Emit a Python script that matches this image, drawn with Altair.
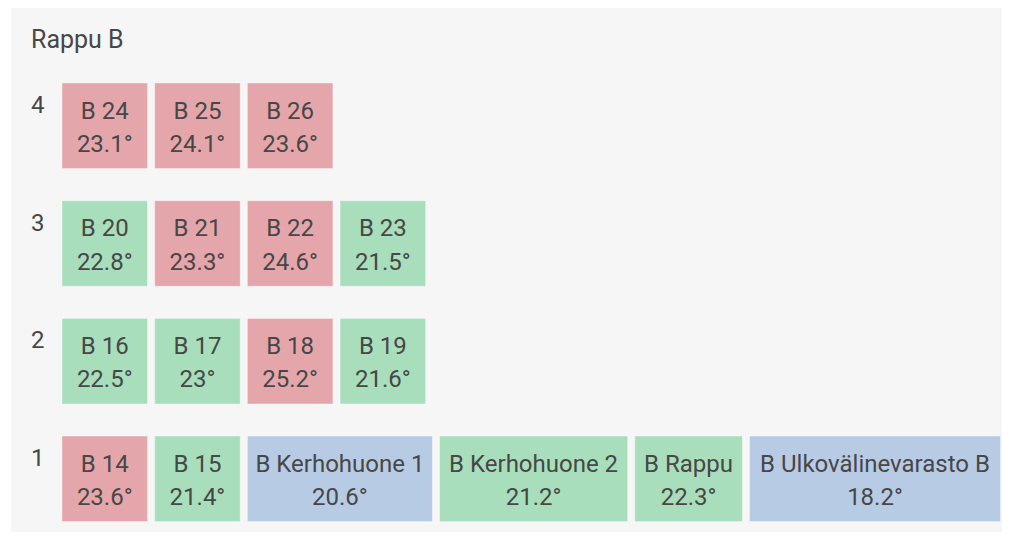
import altair as alt
import pandas as pd

# ---------------- data ----------------
TITLE = "Rappu B"
FLOORS = [4, 4, 4, 3, 3, 3, 3, 2, 2, 2, 2, 1, 1, 1, 1, 1, 1]
ROOMS = ["B 24", "B 25", "B 26",
         "B 20", "B 21", "B 22", "B 23",
         "B 16", "B 17", "B 18", "B 19",
         "B 14", "B 15", "B Kerhohuone 1", "B Kerhohuone 2", "B Rappu",
         "B Ulkovälinevarasto B"]
TEMPS = [23.1, 24.1, 23.6,
         22.8, 23.3, 24.6, 21.5,
         22.5, 23.0, 25.2, 21.6,
         23.6, 21.4, 20.6, 21.2, 22.3, 18.2]
STATUS_DOMAIN = ["cold", "ok", "warm"]
STATUS_COLORS = ["#b8cbe5", "#a8debb", "#e4a6ab"]
COLD_BELOW = 21.0
WARM_ABOVE = 23.0

# ---------------- layout (sizes, not data) ----------------
W, H = 991, 524          # plot area
X0 = 51                  # first cell left edge
GAP = 7.2                # gap between cells
CELL_W = 85.5            # default cell width
CELL_H = 85.5
ROW0 = 75                # top of the first (highest) floor row
ROW_PITCH = 117.7
WIDE_CELLS = {"B Kerhohuone 1": 185, "B Kerhohuone 2": 188,
              "B Rappu": 107.5, "B Ulkovälinevarasto B": 251}
FONT = "Roboto"
TEXT_COLOR = "#474747"
FONT_SIZE = 24

df = pd.DataFrame({"floor": FLOORS, "room": ROOMS, "temp": TEMPS})
df["status"] = df["temp"].apply(
    lambda t: "cold" if t < COLD_BELOW else ("warm" if t > WARM_ABOVE else "ok"))
df["label"] = df["temp"].apply(lambda t: f"{t:g}°")
df["w"] = df["room"].map(WIDE_CELLS).fillna(CELL_W)
df["x2"] = X0 + df.groupby("floor")["w"].cumsum() + GAP * df.groupby("floor").cumcount()
df["x"] = df["x2"] - df["w"]
df["xc"] = (df["x"] + df["x2"]) / 2
floor_order = sorted(set(FLOORS), reverse=True)
df["row"] = df["floor"].map({f: i for i, f in enumerate(floor_order)})
df["y"] = ROW0 + df["row"] * ROW_PITCH
df["y2"] = df["y"] + CELL_H
df["name_y"] = df["y"] + 35.5
df["temp_y"] = df["y"] + 68.8

floors_df = pd.DataFrame({"floor": floor_order})
floors_df["y"] = ROW0 + floors_df.index * ROW_PITCH + 30

xs = alt.Scale(domain=[0, W], nice=False, zero=False)
ys = alt.Scale(domain=[0, H], nice=False, zero=False, reverse=True)

base = alt.Chart(df)

cells = base.mark_rect(stroke="#ffffff", strokeOpacity=0.35, strokeWidth=1).encode(
    x=alt.X("x:Q", scale=xs, axis=None),
    x2="x2:Q",
    y=alt.Y("y:Q", scale=ys, axis=None),
    y2="y2:Q",
    color=alt.Color("status:N", scale=alt.Scale(domain=STATUS_DOMAIN, range=STATUS_COLORS),
                    legend=None),
)

names = base.mark_text(font=FONT, fontSize=FONT_SIZE, color=TEXT_COLOR, align="center",
                       baseline="alphabetic").encode(
    x=alt.X("xc:Q", scale=xs, axis=None),
    y=alt.Y("name_y:Q", scale=ys, axis=None),
    text="room:N",
)

temps = base.mark_text(font=FONT, fontSize=FONT_SIZE, color=TEXT_COLOR, align="center",
                       baseline="alphabetic").encode(
    x=alt.X("xc:Q", scale=xs, axis=None),
    y=alt.Y("temp_y:Q", scale=ys, axis=None),
    text="label:N",
)

floor_labels = alt.Chart(floors_df).mark_text(
    font=FONT, fontSize=FONT_SIZE, color=TEXT_COLOR, align="left", baseline="alphabetic"
).encode(
    x=alt.value(20),
    y=alt.Y("y:Q", scale=ys, axis=None),
    text="floor:N",
)

title = alt.Chart(pd.DataFrame({"t": [TITLE]})).mark_text(
    font=FONT, fontSize=25, color=TEXT_COLOR, align="left", baseline="alphabetic"
).encode(
    x=alt.value(20),
    y=alt.value(40),
    text="t:N",
)

chart = alt.layer(cells, names, temps, floor_labels, title).properties(
    width=W, height=H,
    autosize=alt.AutoSizeParams(type="none"),
    padding={"left": 3, "top": 0, "right": 0, "bottom": 0},
    background="#ffffff",
).configure_view(stroke=None, fill="#f6f6f6")

chart.save("out.html", embed_options={"renderer": "svg", "actions": False})
